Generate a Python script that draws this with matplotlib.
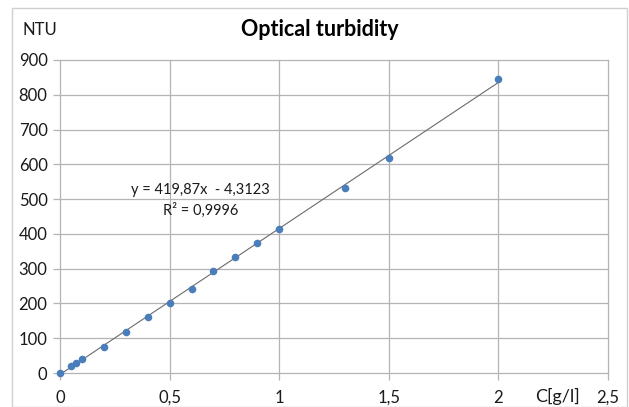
import numpy as np
import matplotlib.pyplot as plt
from matplotlib.patches import Rectangle

plt.rcParams['font.family'] = ['Lato', 'DejaVu Sans']

# measured data (concentration g/l vs turbidity NTU)
conc = [0, 0.05, 0.075, 0.1, 0.2, 0.3, 0.4, 0.5, 0.6, 0.7, 0.8, 0.9, 1.0, 1.3, 1.5, 2.0]
ntu = [0, 19, 29, 40, 76, 118, 161, 200, 242, 294, 333, 373, 414, 531, 617, 844]

x_ticks = [0, 0.5, 1, 1.5, 2, 2.5]
x_labels = ['0', '0,5', '1', '1,5', '2', '2,5']
y_ticks = [0, 100, 200, 300, 400, 500, 600, 700, 800, 900]

slope, intercept = 419.87, -4.3123

W, H = 629, 407
fig = plt.figure(figsize=(W / 100, H / 100), dpi=100)
ax = fig.add_axes([60 / W, 1 - 373 / H, (608 - 60) / W, (373 - 60) / H])

grid_c = '#b4b4b4'
txt_c = '#1a1a1a'

# trendline
xl = np.array([0, 2.0])
ax.plot(xl, slope * xl + intercept, color='#6a6a6a', lw=0.8, zorder=2)
ax.scatter(conc, ntu, s=30, color='#4a7ebb', zorder=3, linewidths=0, clip_on=False)

ax.set_xlim(0, 2.5)
ax.set_ylim(0, 900)
ax.set_xticks(x_ticks)
ax.set_xticklabels(x_labels)
ax.set_yticks(y_ticks)
ax.grid(True, color=grid_c, lw=0.9)
for s in ax.spines.values():
    s.set_visible(False)
ax.tick_params(axis='both', colors=grid_c, length=5, width=0.9, labelcolor=txt_c,
               labelsize=12)
ax.tick_params(axis='x', pad=7)
ax.tick_params(axis='y', pad=4)
ax.set_axisbelow(True)
for t in ax.get_xgridlines() + ax.get_ygridlines():
    t.set_clip_on(False)

fig.text(320 / W, 1 - 30 / H, 'Optical turbidity', ha='center', va='center',
         fontsize=15.5, fontweight='bold')
fig.text(40 / W, 1 - 30 / H, 'NTU', ha='center', va='center', fontsize=12, color=txt_c)
fig.text(557 / W, 1 - 396 / H, 'C[g/l]', ha='center', va='center', fontsize=13, color=txt_c)

ax.text(0.64, 526, 'y = 419,87x  - 4,3123', ha='center', va='center', fontsize=10.5,
        color=txt_c)
ax.text(0.64, 468, 'R² = 0,9996', ha='center', va='center', fontsize=10.5, color=txt_c)

fig.patches.append(Rectangle((12 / W, 0.5 / H), (627 - 12) / W, (H - 8.5) / H,
                             transform=fig.transFigure, fill=False, ec='#d0d0d0', lw=1))

fig.savefig('out.png', dpi=100)
